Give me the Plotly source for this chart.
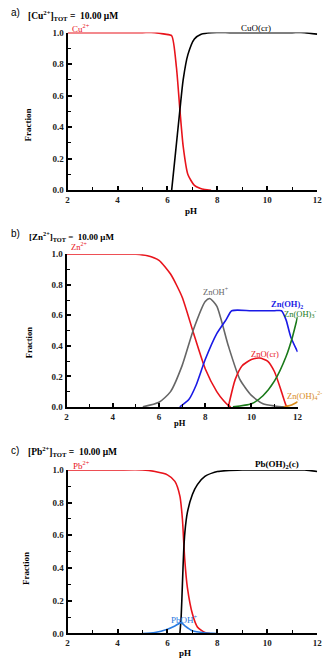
import plotly.graph_objects as go

# ---------------- Data ----------------
# Panel a: Cu
cu_ion_ph = [2, 3, 4, 5, 5.5, 5.9, 6.17, 6.36, 6.5, 6.63, 6.82, 7.08, 7.3, 7.5, 7.75]
cu_ion_fr = [1.0, 1.0, 1.0, 1.0, 1.0, 0.99, 0.98, 0.78, 0.51, 0.28, 0.10, 0.03, 0.012, 0.004, 0.0]
cuo_ph = [6.17, 6.3, 6.5, 6.63, 6.82, 7.08, 7.35, 7.75, 8.5, 9, 10, 11, 11.5, 12]
cuo_fr = [0.0, 0.2, 0.51, 0.70, 0.86, 0.96, 0.99, 1.0, 1.0, 1.0, 1.0, 1.0, 1.0, 0.99]

# Panel b: Zn
zn_ion_ph = [2, 3, 4, 5, 5.5, 6, 6.5, 7, 7.5, 8, 8.5, 8.8, 9.0, 9.1]
zn_ion_fr = [1.0, 1.0, 1.0, 1.0, 0.99, 0.96, 0.87, 0.72, 0.48, 0.25, 0.10, 0.04, 0.01, 0.0]
znoh_ph = [5.3, 6, 6.5, 7, 7.5, 8, 8.2, 8.5, 9, 9.5, 10, 10.5, 11, 11.5]
znoh_fr = [0.0, 0.03, 0.10, 0.27, 0.51, 0.69, 0.71, 0.66, 0.40, 0.18, 0.075, 0.02, 0.006, 0.0]
znoh2_ph = [6.9, 7.3, 7.6, 8, 8.5, 8.9, 9.15, 10, 11, 11.3, 11.5, 11.7, 12]
znoh2_fr = [0.0, 0.05, 0.14, 0.31, 0.48, 0.57, 0.63, 0.63, 0.63, 0.63, 0.57, 0.46, 0.36]
zno_ph = [9.0, 9.3, 9.6, 10, 10.35, 10.7, 11, 11.3, 11.5, 11.55]
zno_fr = [0.0, 0.18, 0.27, 0.31, 0.32, 0.30, 0.23, 0.10, 0.01, 0.0]
znoh3_ph = [9.2, 10, 10.5, 11, 11.5, 11.78, 12]
znoh3_fr = [0.0, 0.02, 0.073, 0.17, 0.33, 0.46, 0.59]
znoh4_ph = [11.4, 11.7, 12]
znoh4_fr = [0.0, 0.01, 0.034]

# Panel c: Pb
pb_ion_ph = [2, 3, 4, 5, 5.5, 6, 6.3, 6.5, 6.6, 6.69, 6.8, 7.0, 7.2, 7.5, 7.7]
pb_ion_fr = [1.0, 1.0, 1.0, 1.0, 0.99, 0.97, 0.93, 0.84, 0.70, 0.46, 0.28, 0.12, 0.04, 0.006, 0.0]
pboh2_ph = [6.5, 6.55, 6.6, 6.65, 6.7, 6.8, 7.0, 7.2, 7.5, 8, 9, 10, 11, 11.5, 12]
pboh2_fr = [0.0, 0.10, 0.30, 0.50, 0.62, 0.74, 0.85, 0.91, 0.96, 0.99, 1.0, 1.0, 1.0, 1.0, 0.99]
pboh_ph = [5.0, 5.5, 6.0, 6.3, 6.55, 6.7, 7.0, 7.5, 8.0]
pboh_fr = [0.0, 0.006, 0.026, 0.046, 0.066, 0.046, 0.016, 0.004, 0.0]

x_ticks = [2, 4, 6, 8, 10, 12]
y_ticks = [0.0, 0.2, 0.4, 0.6, 0.8, 1.0]
y_tick_text = ["0.0", "0.2", "0.4", "0.6", "0.8", "1.0"]

RED = "#e8141c"
BLACK = "#000000"
GRAY = "#666666"
BLUE = "#1a1ae6"
GREEN = "#1a7a1a"
ORANGE = "#d98a1a"
LBLUE = "#2a7ae0"

W, H = 331, 667
SERIF = "Liberation Serif"

fig = go.Figure()

def px_x(p):
    return p / W

def px_y(p):
    return 1 - p / H

panels = [
    ("x", "y", (67, 322), (28, 188)),
    ("x2", "y2", (66, 302), (253, 408)),
    ("x3", "y3", (67, 322), (472, 638)),
]

def add_line(ph, fr, color, panel, width=1.6):
    xa, ya = panels[panel][0], panels[panel][1]
    fig.add_trace(go.Scatter(x=ph, y=fr, mode="lines", xaxis=xa, yaxis=ya,
                             line=dict(color=color, width=width, shape="spline", smoothing=0.6),
                             showlegend=False, hoverinfo="skip"))

add_line(cu_ion_ph, cu_ion_fr, RED, 0)
add_line(cuo_ph, cuo_fr, BLACK, 0)

add_line(zn_ion_ph, zn_ion_fr, RED, 1)
add_line(znoh_ph, znoh_fr, GRAY, 1)
add_line(znoh2_ph, znoh2_fr, BLUE, 1)
add_line(zno_ph, zno_fr, RED, 1)
add_line(znoh3_ph, znoh3_fr, GREEN, 1)
add_line(znoh4_ph, znoh4_fr, ORANGE, 1)

add_line(pb_ion_ph, pb_ion_fr, RED, 2)
add_line(pboh2_ph, pboh2_fr, BLACK, 2)
add_line(pboh_ph, pboh_fr, LBLUE, 2)

tickfont = dict(family=SERIF, size=9, color="#222", weight="bold")

layout_axes = {}
for i, (xa, ya, xd, yd) in enumerate(panels):
    xkey = "xaxis" if xa == "x" else "xaxis" + xa[1:]
    ykey = "yaxis" if ya == "y" else "yaxis" + ya[1:]
    layout_axes[xkey] = dict(
        domain=[px_x(xd[0]), px_x(xd[1])], anchor=ya, range=[2, 12],
        tickvals=x_ticks, ticktext=[str(v) for v in x_ticks],
        showgrid=False, zeroline=False, showline=True, linecolor="black", linewidth=2,
        ticks="inside", ticklen=4, tickwidth=1.5, tickcolor="black",
        minor=dict(dtick=1, ticks="inside", ticklen=3, tickcolor="black", tickwidth=1.2),
        tickfont=tickfont,
    )
    layout_axes[ykey] = dict(
        domain=[px_y(yd[1]), px_y(yd[0])], anchor=xa, range=[0, 1.0],
        tickvals=y_ticks, ticktext=y_tick_text,
        showgrid=False, zeroline=False, showline=True, linecolor="black", linewidth=2,
        ticks="inside", ticklen=4, tickwidth=1.5, tickcolor="black",
        minor=dict(dtick=0.1, ticks="inside", ticklen=3, tickcolor="black", tickwidth=1.2),
        tickfont=tickfont,
    )

annotations = []

def ann(text, xpx, ypx, color="black", size=9, family=SERIF, xanchor="left", angle=0, bold=False):
    annotations.append(dict(text=text, x=px_x(xpx), y=px_y(ypx), xref="paper", yref="paper",
                            showarrow=False, xanchor=xanchor, yanchor="middle",
                            textangle=angle,
                            font=dict(family=family, size=size, color=color,
                                      weight="bold" if bold else "normal")))

# panel letters and titles
ann("a)", 7, 8, size=10, family="Liberation Sans")
ann("[Cu<sup>2+</sup>]<sub>TOT</sub> = &nbsp;10.00 μM", 25, 11, size=9.5, bold=True)
ann("b)", 7, 232, size=10, family="Liberation Sans")
ann("[Zn<sup>2+</sup>]<sub>TOT</sub> = &nbsp;10.00 μM", 26, 235, size=9, bold=True)
ann("c)", 7, 452, size=10, family="Liberation Sans")
ann("[Pb<sup>2+</sup>]<sub>TOT</sub> = &nbsp;10.00 μM", 25, 453, size=9.5, bold=True)

# axis titles
ann("Fraction", 27, 122, size=9, xanchor="center", angle=-90, bold=True)
ann("pH", 193, 209, size=9, xanchor="center", bold=True)
ann("Fraction", 27, 343, size=8.5, xanchor="center", angle=-90, bold=True)
ann("pH", 182, 424, size=8.5, xanchor="center", bold=True)
ann("Fraction", 25, 572, size=9, xanchor="center", angle=-90, bold=True)
ann("pH", 187, 658, size=9, xanchor="center", bold=True)

# species labels
ann("Cu<sup>2+</sup>", 69, 23, color=RED, size=9)
ann("CuO(cr)", 242, 23, color=BLACK, size=9)

ann("Zn<sup>2+</sup>", 68, 245, color=RED, size=8.5)
ann("ZnOH<sup>+</sup>", 203, 291, color=GRAY, size=8.5)
ann("Zn(OH)<sub>2</sub>", 273, 304, color=BLUE, size=8.5, bold=True)
ann("Zn(OH)<sub>3</sub><sup>-</sup>", 286, 313, color=GREEN, size=8.5)
ann("ZnO(cr)", 252, 354, color=RED, size=8.5)
ann("Zn(OH)<sub>4</sub><sup>2-</sup>", 289, 396, color=ORANGE, size=8.5)

ann("Pb<sup>2+</sup>", 70, 467, color=RED, size=9)
ann("Pb(OH)<sub>2</sub>(c)", 256, 467, color=BLACK, size=9, bold=True)
ann("PbOH<sup>+</sup>", 171, 623, color=LBLUE, size=9)

fig.update_layout(
    width=W, height=H,
    margin=dict(l=0, r=0, t=0, b=0),
    paper_bgcolor="white", plot_bgcolor="white",
    showlegend=False,
    annotations=annotations,
    **layout_axes,
)

fig.write_html("out.html")
